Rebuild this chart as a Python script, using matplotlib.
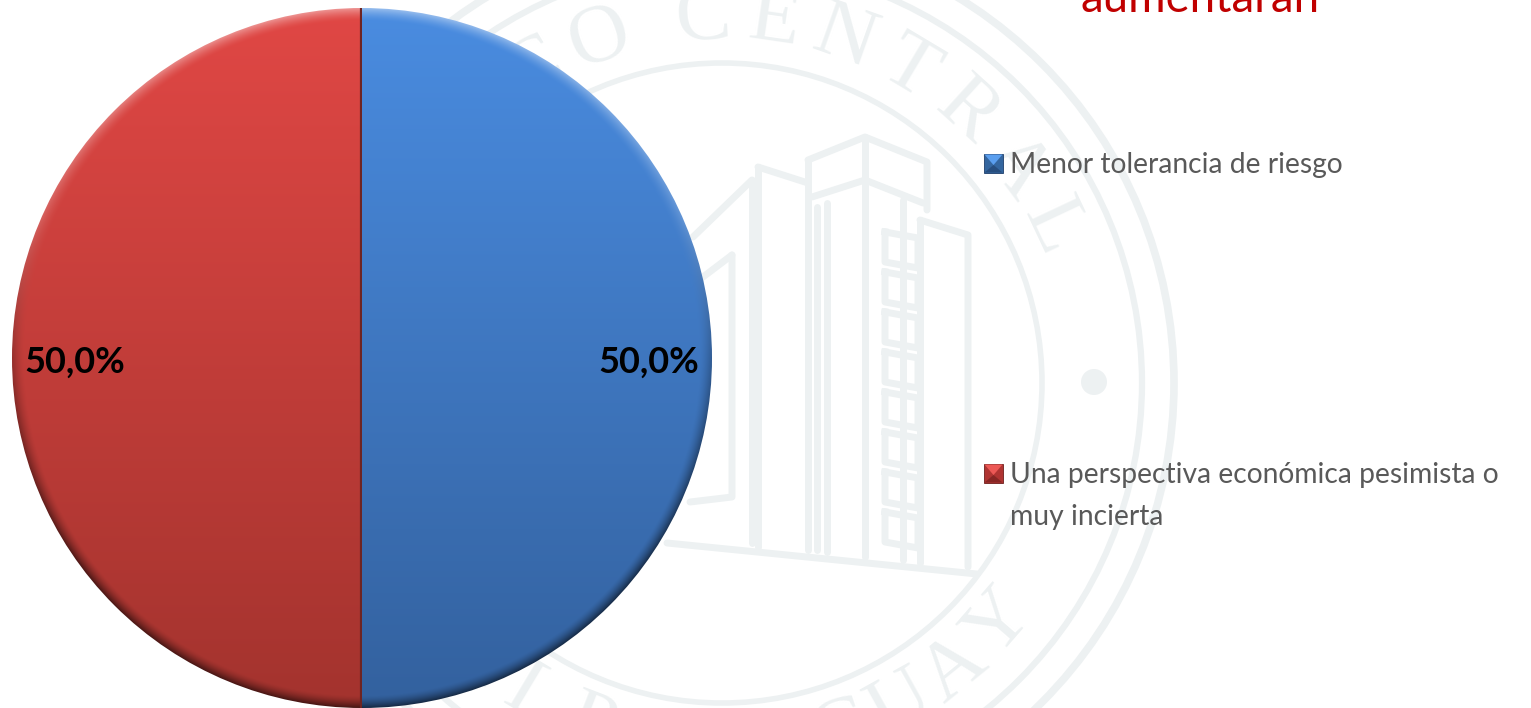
import matplotlib
matplotlib.use('Agg')
import matplotlib.pyplot as plt
import numpy as np
from matplotlib.patches import Circle, Polygon, Rectangle

# datos
categorias = ['Menor tolerancia de riesgo', 'Una perspectiva económica pesimista o\nmuy incierta']
valores = [50.0, 50.0]
titulo = 'aumentarán'
sello_arriba = 'BANCOCENTRAL'
sello_abajo = 'DELPARAGUAY'

W, H = 1531, 708
plt.rcParams['font.family'] = ['Lato', 'DejaVu Sans']
SELLO = '#EDF1F2'

fig = plt.figure(figsize=(W / 100, H / 100), dpi=100, facecolor='white')

# fondo en pixeles: sello de agua, titulo y leyenda
bg = fig.add_axes([0, 0, 1, 1])
bg.set_xlim(0, W)
bg.set_ylim(H, 0)
bg.axis('off')

cx, cy = 722, 383
for r, lw in [(452, 5.5), (420, 4.5), (320, 4)]:
    bg.add_patch(Circle((cx, cy), r, fill=False, ec=SELLO, lw=lw))
bg.add_patch(Circle((1094, 382), 13, fc=SELLO, ec='none'))

# letras del sello
for i, letra in enumerate(sello_arriba):
    # hueco entre BANCO y CENTRAL
    ang = -3 + (i - 5) * 11.3 if i >= 5 else -19.6 - (4 - i) * 11.3
    a = np.radians(ang)
    bg.text(cx + 365 * np.sin(a), cy - 365 * np.cos(a), letra, fontsize=60,
            color=SELLO, ha='center', va='center', rotation=-ang,
            family='Liberation Serif', zorder=1.2)
for i, letra in enumerate(sello_abajo):
    ang = 49 - (len(sello_abajo) - 1 - i) * 10
    a = np.radians(ang)
    bg.text(cx + 368 * np.sin(a), cy + 368 * np.cos(a), letra, fontsize=60,
            color=SELLO, ha='center', va='center', rotation=ang,
            family='Liberation Serif', zorder=1.2)

# edificios del sello
edificios = [
    [(808, 160), (865, 137), (927, 162), (927, 210)],
    [(808, 160), (808, 550)],
    [(865, 137), (865, 557)],
    [(812, 197), (865, 180), (923, 203)],
    [(758, 167), (808, 183)],
    [(758, 167), (758, 547)],
    [(752, 180), (693, 237)],
    [(752, 180), (752, 543)],
    [(732, 255), (703, 277)],
    [(732, 255), (732, 497), (690, 502)],
    [(920, 220), (968, 235), (968, 567)],
    [(920, 220), (920, 563)],
    [(903, 200), (903, 560)],
    [(817, 207), (817, 550)],
    [(827, 203), (827, 552)],
    [(667, 543), (977, 574)],
]
for pts in edificios:
    xs, ys = zip(*pts)
    bg.plot(xs, ys, color=SELLO, lw=5, solid_capstyle='round', solid_joinstyle='round')
for y in range(232, 530, 40):
    bg.plot([885, 885, 918, 918, 885], [y, y + 30, y + 36, y + 6, y], color=SELLO, lw=5)

bg.text(1200, 12, titulo, color='#C00000', fontsize=32.8, ha='center', va='baseline', zorder=5)

# leyenda
swatches = [(984, 154, '#34669F', '#5A9EEE', '#1F3F6B'), (984, 464, '#B03432', '#EC5855', '#6E1E1C')]
for (x, y, base, luz, borde), cat in zip(swatches, categorias):
    bg.add_patch(Rectangle((x, y), 19, 19, fc=base, ec=borde, lw=0.6, zorder=5))
    bg.add_patch(Polygon([(x + 0.5, y + 0.5), (x + 18.5, y + 0.5), (x + 9.5, y + 11)],
                         fc=luz, ec='none', zorder=5.1))
    bg.add_patch(Polygon([(x + 0.5, y + 18.5), (x + 18.5, y + 18.5), (x + 9.5, y + 11)],
                         fc=borde, ec='none', alpha=0.6, zorder=5.1))
    for j, linea in enumerate(cat.split('\n')):
        bg.text(1010, y + 19.5 + j * 41, linea, color='#595959', fontsize=20.3,
                ha='left', va='baseline', zorder=5)

# pie
ax = fig.add_axes([12 / W, 0, 700 / W, 700 / H])
ax.patch.set_alpha(0)
wedges, _, autotexts = ax.pie(
    valores, startangle=90, counterclock=False, radius=1,
    autopct=lambda p: f'{p:.1f}%'.replace('.', ','), pctdistance=0.82,
    textprops={'fontsize': 26, 'color': 'black', 'fontweight': 'bold'},
)

ys, xs = np.mgrid[1:-1:700j, -1:1:700j]
rad = np.hypot(xs, ys)
t = (1 - ys) / 2
colores = [(np.array([0.29, 0.55, 0.88]), np.array([0.20, 0.38, 0.62])),
           (np.array([0.88, 0.28, 0.27]), np.array([0.64, 0.20, 0.18]))]
for w, (c0, c1) in zip(wedges, colores):
    img = c0[None, None, :] * (1 - t[..., None]) + c1[None, None, :] * t[..., None]
    # bisel: claro arriba, oscuro abajo y a los lados
    borde_alpha = np.clip((rad - 0.965) / 0.035, 0, 1) ** 1.5
    arriba = np.clip(ys, 0, 1) * 0.4
    abajo = np.clip(0.4 - ys, 0, 1) * 0.55
    img = img + (1 - img) * (borde_alpha * arriba)[..., None]
    img = img * (1 - (borde_alpha * abajo)[..., None])
    im = ax.imshow(np.clip(img, 0, 1), extent=(-1, 1, -1, 1), zorder=1.5, interpolation='bilinear')
    im.set_clip_path(w)
    w.set_facecolor('none')
    w.set_edgecolor('none')
    w.set_zorder(1.6)

# union entre las dos mitades
costura = ax.axvline(-0.003, color='#6E2422', lw=1.6, zorder=1.7)
costura.set_clip_path(wedges[1])
for txt in autotexts:
    txt.set_zorder(3)
    x, y = txt.get_position()
    txt.set_position((x, y - 0.012))

ax.set_xlim(-1, 1)
ax.set_ylim(-1, 1)
ax.set_aspect('equal')
ax.axis('off')

fig.savefig('out.png', dpi=100, facecolor='white')
